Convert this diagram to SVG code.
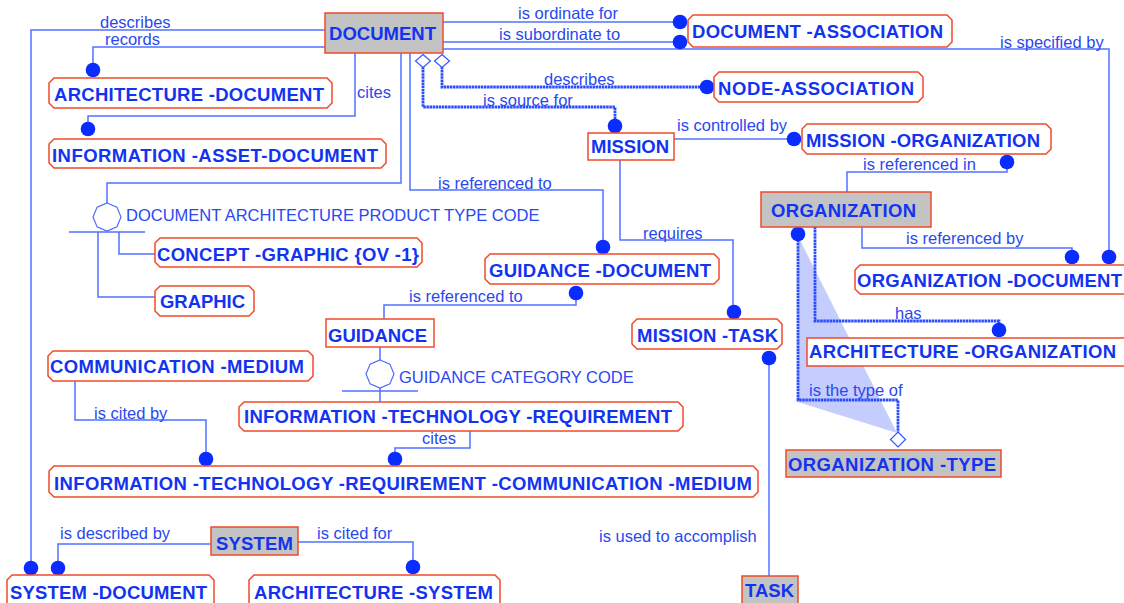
<svg xmlns="http://www.w3.org/2000/svg" width="1124" height="603" viewBox="0 0 1124 603">
<style>
.ent{fill:#fff;stroke:#f04a2a;stroke-width:1.5}
.ind{fill:#c3c3c3;stroke:#f04a2a;stroke-width:1.5}
.indw{fill:#fff;stroke:#f04a2a;stroke-width:1.5}
.name{font-family:"Liberation Sans",Arial,sans-serif;font-weight:bold;font-size:18.5px;fill:#1234f0}
.lbl{font-family:"Liberation Sans",Arial,sans-serif;font-size:16.5px;fill:#2a48f0}
.rel{fill:none;stroke:#5272ff;stroke-width:1.5}
.idr{fill:none;stroke:#2a4cff;stroke-width:2.8;stroke-dasharray:2.5 0.6}
.dot{fill:#0a2cff}
.dia{fill:#fff;stroke:#3355ff;stroke-width:1.2}
.cat{fill:#fff;stroke:#4a6aff;stroke-width:1.2}
</style>
<rect width="1124" height="603" fill="#fff"/>

<polygon points="799,238 897,433 798,402" fill="#bfc8ff" opacity="0.9"/>

<g id="connectors">
  <path class="rel" d="M325,30 H31 V561"/>
  <path class="rel" d="M325,47 H93 V63"/>
  <path class="rel" d="M355,53 V116 H88 V122"/>
  <path class="rel" d="M443,22 H673"/>
  <path class="rel" d="M443,42 H673"/>
  <path class="rel" d="M443,49 H1109 V250"/>
  <path class="rel" d="M401,53 V183 H107 V203"/>
  <path class="rel" d="M69,232 H145 M98,232 V297 H155 M119,232 V254 H155"/>
  <path class="rel" d="M410,53 V190 H603 V240"/>
  <path class="idr" d="M442,67 V87 H703"/>
  <path class="idr" d="M423,67 V107 H615 V119"/>
  <path class="rel" d="M674,139 H787"/>
  <path class="rel" d="M620,160 V240 H733 V305"/>
  <path class="rel" d="M847,192 V172 H1007 V169"/>
  <path class="rel" d="M862,227 V248 H1072 V250"/>
  <path class="idr" d="M815,227 V321 H999 V323"/>
  <path class="idr" d="M798,240 V400 H898 V432"/>
  <path class="rel" d="M769,576 V365" style="stroke:#8095ff;stroke-width:2"/>
  <path class="rel" d="M576,300 V305 H384 V319"/>
  <path class="rel" d="M380,347 V360 M342,391 H418 M380,388 V402"/>
  <path class="rel" d="M75,381 V420 H206 V452"/>
  <path class="rel" d="M470,431 V448 H395 V452"/>
  <path class="rel" d="M211,544 H58 V561"/>
  <path class="rel" d="M298,542 H413 V560"/>

  <polygon class="cat" points="107,203 116.9,207.1 121,217 116.9,226.9 107,231 97.1,226.9 93,217 97.1,207.1"/>
  <polygon class="cat" points="380,360 389.9,364.1 394,374 389.9,383.9 380,388 370.1,383.9 366,374 370.1,364.1"/>

  <polygon class="dia" points="423,54.5 430.5,61 423,67.5 415.5,61"/>
  <polygon class="dia" points="442,54.5 449.5,61 442,67.5 434.5,61"/>
  <polygon class="dia" points="898,432 905.5,439.5 898,447 890.5,439.5"/>

  <circle class="dot" cx="31" cy="568" r="7.3"/>
  <circle class="dot" cx="58" cy="568" r="7.3"/>
  <circle class="dot" cx="93" cy="70" r="7.3"/>
  <circle class="dot" cx="88" cy="129" r="7.3"/>
  <circle class="dot" cx="680" cy="22" r="7.3"/>
  <circle class="dot" cx="680" cy="42" r="7.3"/>
  <circle class="dot" cx="707" cy="87" r="7.3"/>
  <circle class="dot" cx="615" cy="126" r="7.3"/>
  <circle class="dot" cx="603" cy="247" r="7.3"/>
  <circle class="dot" cx="794" cy="139" r="7.3"/>
  <circle class="dot" cx="1007" cy="162" r="7.3"/>
  <circle class="dot" cx="1072" cy="257" r="7.3"/>
  <circle class="dot" cx="1109" cy="257" r="7.3"/>
  <circle class="dot" cx="734" cy="312" r="7.3"/>
  <circle class="dot" cx="999" cy="330" r="7.3"/>
  <circle class="dot" cx="798" cy="234" r="7.3"/>
  <circle class="dot" cx="769" cy="358" r="7.3"/>
  <circle class="dot" cx="576" cy="293" r="7.3"/>
  <circle class="dot" cx="206" cy="459" r="7.3"/>
  <circle class="dot" cx="395" cy="459" r="7.3"/>
  <circle class="dot" cx="413" cy="567" r="7.3"/>

  <text class="lbl" x="100" y="28">describes</text>
  <text class="lbl" x="105" y="45">records</text>
  <text class="lbl" x="357" y="98">cites</text>
  <text class="lbl" x="518" y="19">is ordinate for</text>
  <text class="lbl" x="499" y="40">is subordinate to</text>
  <text class="lbl" x="1000" y="48">is specified by</text>
  <text class="lbl" x="544" y="85">describes</text>
  <text class="lbl" x="483" y="106">is source for</text>
  <text class="lbl" x="677" y="131">is controlled by</text>
  <text class="lbl" x="438" y="189">is referenced to</text>
  <text class="lbl" x="126" y="221">DOCUMENT ARCHITECTURE PRODUCT TYPE CODE</text>
  <text class="lbl" x="643" y="239">requires</text>
  <text class="lbl" x="863" y="170">is referenced in</text>
  <text class="lbl" x="906" y="244">is referenced by</text>
  <text class="lbl" x="895" y="319">has</text>
  <text class="lbl" x="409" y="302">is referenced to</text>
  <text class="lbl" x="399" y="383">GUIDANCE CATEGORY CODE</text>
  <text class="lbl" x="809" y="396">is the type of</text>
  <text class="lbl" x="94" y="419">is cited by</text>
  <text class="lbl" x="422" y="444">cites</text>
  <text class="lbl" x="599" y="542">is used to accomplish</text>
  <text class="lbl" x="60" y="539">is described by</text>
  <text class="lbl" x="317" y="539">is cited for</text>
</g>

<g id="document">
  <rect class="ind" x="325" y="13" width="118" height="40"/>
  <text class="name" x="329" y="40" textLength="107" lengthAdjust="spacing">DOCUMENT</text>
</g>
<g id="document-association">
  <polygon class="ent" points="693,15 947,15 952,20 952,42 947,47 693,47 688,42 688,20"/>
  <text class="name" x="692" y="38" textLength="251" lengthAdjust="spacing">DOCUMENT -ASSOCIATION</text>
</g>
<g id="node-association">
  <polygon class="ent" points="719,72 918,72 923,77 923,97 918,102 719,102 714,97 714,77"/>
  <text class="name" x="718" y="95" textLength="196" lengthAdjust="spacing">NODE-ASSOCIATION</text>
</g>
<g id="mission">
  <rect class="indw" x="588" y="133" width="86" height="27"/>
  <text class="name" x="591" y="153" textLength="78" lengthAdjust="spacing">MISSION</text>
</g>
<g id="mission-organization">
  <polygon class="ent" points="807,124 1046,124 1051,129 1051,149 1046,154 807,154 802,149 802,129"/>
  <text class="name" x="806" y="147" textLength="234" lengthAdjust="spacing">MISSION -ORGANIZATION</text>
</g>
<g id="organization">
  <rect class="ind" x="761" y="192" width="170" height="35"/>
  <text class="name" x="771" y="217" textLength="145" lengthAdjust="spacing">ORGANIZATION</text>
</g>
<g id="organization-document">
  <polygon class="ent" points="860,265 1125,265 1130,270 1130,289 1125,294 860,294 855,289 855,270"/>
  <text class="name" x="857" y="287" textLength="265" lengthAdjust="spacing">ORGANIZATION -DOCUMENT</text>
</g>
<g id="architecture-organization">
  <rect class="indw" x="807" y="338" width="322" height="28"/>
  <text class="name" x="809" y="358" textLength="307" lengthAdjust="spacing">ARCHITECTURE -ORGANIZATION</text>
</g>
<g id="organization-type">
  <rect class="ind" x="786" y="450" width="215" height="27"/>
  <text class="name" x="788" y="471" textLength="208" lengthAdjust="spacing">ORGANIZATION -TYPE</text>
</g>
<g id="task">
  <rect class="ind" x="742" y="576" width="56" height="32"/>
  <text class="name" x="745" y="597" textLength="49" lengthAdjust="spacing">TASK</text>
</g>
<g id="architecture-document">
  <polygon class="ent" points="54,78 327,78 332,83 332,103 327,108 54,108 49,103 49,83"/>
  <text class="name" x="54" y="101" textLength="270" lengthAdjust="spacing">ARCHITECTURE -DOCUMENT</text>
</g>
<g id="information-asset-document">
  <polygon class="ent" points="54,139 381,139 386,144 386,163 381,168 54,168 49,163 49,144"/>
  <text class="name" x="52" y="162" textLength="326" lengthAdjust="spacing">INFORMATION -ASSET-DOCUMENT</text>
</g>
<g id="concept-graphic">
  <polygon class="ent" points="160,238 417,238 422,243 422,262 417,267 160,267 155,262 155,243"/>
  <text class="name" x="157" y="261" textLength="262" lengthAdjust="spacing">CONCEPT -GRAPHIC {OV -1}</text>
</g>
<g id="graphic">
  <polygon class="ent" points="160,286 249,286 254,291 254,311 249,316 160,316 155,311 155,291"/>
  <text class="name" x="160" y="308" textLength="85" lengthAdjust="spacing">GRAPHIC</text>
</g>
<g id="guidance-document">
  <polygon class="ent" points="490,254 714,254 719,259 719,279 714,284 490,284 485,279 485,259"/>
  <text class="name" x="489" y="277" textLength="222" lengthAdjust="spacing">GUIDANCE -DOCUMENT</text>
</g>
<g id="guidance">
  <rect class="indw" x="326" y="319" width="108" height="28"/>
  <text class="name" x="328" y="342" textLength="99" lengthAdjust="spacing">GUIDANCE</text>
</g>
<g id="mission-task">
  <polygon class="ent" points="637,319 777,319 782,324 782,344 777,349 637,349 632,344 632,324"/>
  <text class="name" x="637" y="342" textLength="141" lengthAdjust="spacing">MISSION -TASK</text>
</g>
<g id="communication-medium">
  <polygon class="ent" points="53,351 308,351 313,356 313,376 308,381 53,381 48,376 48,356"/>
  <text class="name" x="50" y="373" textLength="254" lengthAdjust="spacing">COMMUNICATION -MEDIUM</text>
</g>
<g id="information-technology-requirement">
  <polygon class="ent" points="244,402 678,402 683,407 683,426 678,431 244,431 239,426 239,407"/>
  <text class="name" x="244" y="423" textLength="428" lengthAdjust="spacing">INFORMATION -TECHNOLOGY -REQUIREMENT</text>
</g>
<g id="it-requirement-communication-medium">
  <polygon class="ent" points="54,466 753,466 758,471 758,492 753,497 54,497 49,492 49,471"/>
  <text class="name" x="54" y="490" textLength="698" lengthAdjust="spacing">INFORMATION -TECHNOLOGY -REQUIREMENT -COMMUNICATION -MEDIUM</text>
</g>
<g id="system">
  <rect class="ind" x="211" y="527" width="87" height="28"/>
  <text class="name" x="216" y="550" textLength="77" lengthAdjust="spacing">SYSTEM</text>
</g>
<g id="system-document">
  <polygon class="ent" points="12,575 209,575 214,580 214,610 7,610 7,580"/>
  <text class="name" x="10" y="599" textLength="197" lengthAdjust="spacing">SYSTEM -DOCUMENT</text>
</g>
<g id="architecture-system">
  <polygon class="ent" points="254,575 495,575 500,580 500,610 249,610 249,580"/>
  <text class="name" x="254" y="599" textLength="239" lengthAdjust="spacing">ARCHITECTURE -SYSTEM</text>
</g>
</svg>
